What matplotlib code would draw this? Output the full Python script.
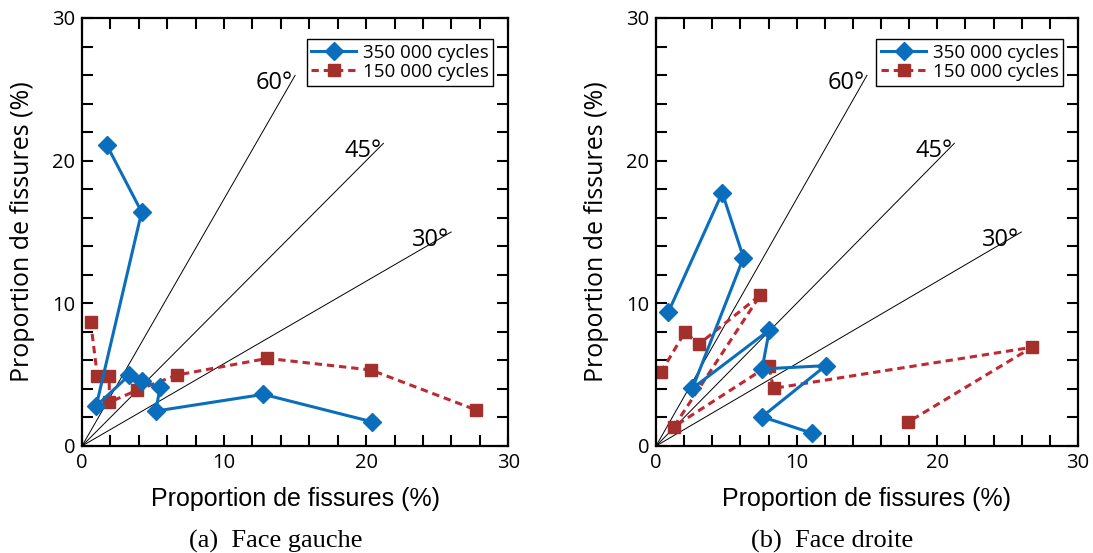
import numpy as np
import matplotlib
matplotlib.use('Agg')
import matplotlib.pyplot as plt

# données : face gauche
g350_x = [1.74, 4.2, 1.0, 3.33, 4.2, 5.49, 5.2, 12.77, 20.4]
g350_y = [21.1, 16.4, 2.8, 4.97, 4.55, 4.1, 2.45, 3.62, 1.7]
g150_x = [0.61, 1.08, 1.92, 1.92, 3.9, 6.67, 13.05, 20.33, 27.75]
g150_y = [8.71, 4.93, 4.93, 3.06, 3.92, 4.97, 6.14, 5.33, 2.52]

# données : face droite
d350_x = [0.87, 4.71, 6.22, 2.59, 8.06, 7.54, 12.06, 7.54, 11.12]
d350_y = [9.37, 17.75, 13.2, 4.04, 8.13, 5.4, 5.63, 2.05, 0.89]
d150_x = [0.35, 2.05, 3.06, 7.42, 1.27, 8.0, 8.36, 26.74, 17.9]
d150_y = [5.16, 7.97, 7.15, 10.58, 1.35, 5.63, 4.04, 6.92, 1.66]

angles = [60, 45, 30]
line_len = 30
series_labels = ['350 000 cycles', '150 000 cycles']
captions = ['(a)  Face gauche', '(b)  Face droite']

blue = '#0A6EBD'
red = '#BE2A32'
red_mk = '#A3302A'
sans = ['Open Sans', 'DejaVu Sans']


def draw_panel(ax, x350, y350, x150, y150):
    # droites de référence
    for a in angles:
        r = np.radians(a)
        ex, ey = line_len * np.cos(r), line_len * np.sin(r)
        ax.plot([0, ex], [0, ey], color='black', lw=0.7, zorder=1)
        ax.text(ex - 0.15, ey - 0.55, f'{a}°', ha='right', va='center',
                fontsize=17, family=sans)
    ax.plot(x350, y350, color=blue, lw=2.2, marker='D', ms=9,
            label=series_labels[0], zorder=3)
    ax.plot(x150, y150, color=red, lw=2.2, ls=(0, (2.4, 1.6)), marker='s',
            ms=9, mfc=red_mk, mec=red_mk, label=series_labels[1], zorder=2)
    ax.set_xlim(0, 30)
    ax.set_ylim(0, 30)
    ax.set_xticks([0, 10, 20, 30])
    ax.set_yticks([0, 10, 20, 30])
    ax.set_xticks(np.arange(0, 31, 2), minor=True)
    ax.set_yticks(np.arange(0, 31, 2), minor=True)
    ax.tick_params(which='both', direction='in', top=True, right=True,
                   length=8, width=1.5, labelsize=14.5, pad=5)
    for lab in ax.get_xticklabels() + ax.get_yticklabels():
        lab.set_family(sans)
    for s in ax.spines.values():
        s.set_linewidth(1.6)
    ax.set_xlabel('Proportion de fissures (%)', fontsize=18,
                  family=['Liberation Sans'], labelpad=10)
    ax.set_ylabel('Proportion de fissures (%)', fontsize=18, family=sans,
                  labelpad=12)
    leg = ax.legend(loc='upper right', bbox_to_anchor=(0.965, 0.95),
                    prop={'family': sans, 'size': 13.5},
                    fancybox=False, edgecolor='black', framealpha=1,
                    borderpad=0.25, labelspacing=0.05, handlelength=2.4,
                    handletextpad=0.35, borderaxespad=0)
    leg.get_frame().set_linewidth(1.0)


fig = plt.figure(figsize=(10.93, 5.53), dpi=100)
ax1 = fig.add_axes([0.075, 0.1935, 0.39, 0.774])
ax2 = fig.add_axes([0.6002, 0.1935, 0.386, 0.774])

draw_panel(ax1, g350_x, g350_y, g150_x, g150_y)
draw_panel(ax2, d350_x, d350_y, d150_x, d150_y)

fig.text(276 / 1093, 1 - 541 / 553, captions[0], ha='center', va='center',
         fontsize=19, family='Liberation Serif')
fig.text(832 / 1093, 1 - 541 / 553, captions[1], ha='center', va='center',
         fontsize=19, family='Liberation Serif')

fig.savefig('out.png', dpi=100)
